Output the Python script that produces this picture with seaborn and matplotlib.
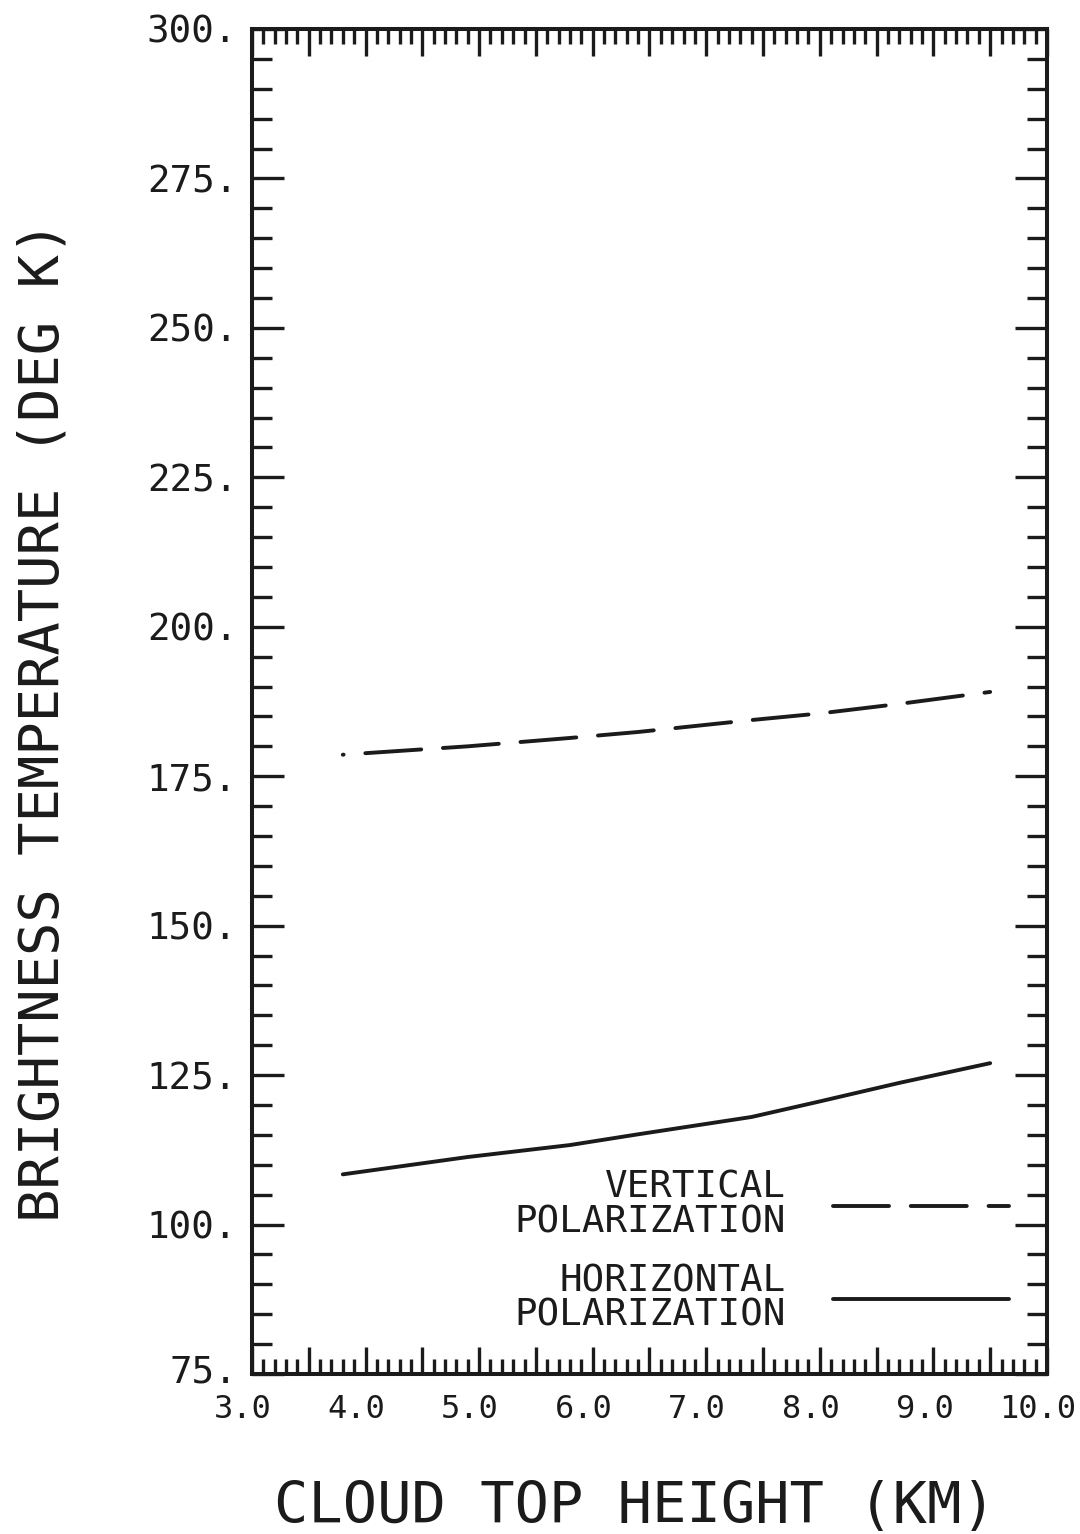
import matplotlib
matplotlib.use("Agg")
import matplotlib.pyplot as plt
import matplotlib.transforms as mtransforms
from matplotlib.lines import Line2D
from matplotlib.ticker import MultipleLocator, FuncFormatter
import pandas as pd
import seaborn as sns

# Brightness temperature vs. cloud top height
height_km = [3.8, 4.9, 5.8, 6.4, 7.4, 8.0, 8.7, 9.5]
vertical_tb = [178.6, 180.0, 181.4, 182.4, 184.4, 185.5, 187.1, 189.1]
horizontal_tb = [108.4, 111.3, 113.3, 115.1, 118.0, 120.6, 123.7, 127.0]

series_labels = ["VERTICAL\nPOLARIZATION", "HORIZONTAL\nPOLARIZATION"]
x_label = "CLOUD TOP HEIGHT (KM)"
y_label = "BRIGHTNESS TEMPERATURE (DEG K)"

INK = "#1b1b1b"
LW = 2.8

sns.set_theme(style="ticks")
plt.rcParams["font.family"] = ["DejaVu Sans Mono", "DejaVu Sans"]
plt.rcParams["text.color"] = INK
plt.rcParams["axes.labelcolor"] = INK
plt.rcParams["xtick.color"] = INK
plt.rcParams["ytick.color"] = INK

df = pd.DataFrame({
    "height": height_km * 2,
    "tb": vertical_tb + horizontal_tb,
    "pol": [series_labels[0]] * len(height_km) + [series_labels[1]] * len(height_km),
})

fig = plt.figure(figsize=(10.8, 15.34), dpi=100)
fig.patch.set_facecolor("white")
ax = fig.add_axes([0.2333, 0.1043, 0.7361, 0.8768])
ax.set_facecolor("white")

sns.lineplot(data=df[df["pol"] == series_labels[0]], x="height", y="tb",
             color=INK, lw=LW, ax=ax, legend=False)
sns.lineplot(data=df[df["pol"] == series_labels[1]], x="height", y="tb",
             color=INK, lw=LW, ax=ax, legend=False)

dash_on, dash_off = 14.4, 5.6
vline, hline = ax.lines[0], ax.lines[1]
vline.set_linestyle((14.2, (dash_on, dash_off)))
for ln in (vline, hline):
    ln.set_dash_capstyle("round")
    ln.set_solid_capstyle("round")

ax.set_xlim(3.0, 10.0)
ax.set_ylim(75, 300)

# frame and ticks
for sp in ax.spines.values():
    sp.set_visible(True)
    sp.set_linewidth(2.9)
    sp.set_color(INK)

ax.xaxis.set_major_locator(MultipleLocator(0.5))
ax.xaxis.set_minor_locator(MultipleLocator(0.1))
ax.yaxis.set_major_locator(MultipleLocator(25))
ax.yaxis.set_minor_locator(MultipleLocator(5))
ax.xaxis.set_major_formatter(FuncFormatter(
    lambda v, p: f"{v:.1f}" if abs(v - round(v)) < 1e-6 else ""))
ax.yaxis.set_major_formatter(FuncFormatter(lambda v, p: f"{int(round(v))}."))

ax.tick_params(which="both", direction="in", top=True, right=True,
               width=2.4, color=INK)
ax.tick_params(axis="x", which="major", length=19.5, pad=14.5, labelsize=23)
ax.tick_params(axis="x", which="minor", length=11)
ax.tick_params(axis="y", which="major", length=23, pad=10.5, labelsize=27)
ax.tick_params(axis="y", which="minor", length=14.5)

fig.canvas.draw()
shift_x = mtransforms.ScaledTranslation(-9 / 100, 0, fig.dpi_scale_trans)
for lab in ax.get_xticklabels():
    lab.set_transform(lab.get_transform() + shift_x)
# lift the bottom y label a little so it clears the first x label
shift_y = mtransforms.ScaledTranslation(0, 6 / 100, fig.dpi_scale_trans)
for lab in ax.get_yticklabels():
    if lab.get_text() == "75.":
        lab.set_transform(lab.get_transform() + shift_y)

ax.set_xlabel(x_label, fontsize=41)
ax.xaxis.set_label_coords(0.482, -0.099)
ax.xaxis.label.set_va("center")
ax.set_ylabel(y_label, fontsize=40)
ax.yaxis.set_label_coords(-0.262, 0.4855)
ax.yaxis.label.set_va("center")

handles = [
    Line2D([], [], color=INK, lw=LW, linestyle=(0, (dash_on, dash_off)),
           dash_capstyle="round"),
    Line2D([], [], color=INK, lw=LW, solid_capstyle="round"),
]
leg = ax.legend(handles, series_labels, loc="lower right",
                bbox_to_anchor=(0.952, 0.030), frameon=False, markerfirst=False,
                prop={"family": "DejaVu Sans Mono", "size": 27},
                handlelength=4.7, handletextpad=1.25, labelspacing=0.6,
                borderpad=0, borderaxespad=0)
for t in leg.get_texts():
    t.set_multialignment("right")
    t.set_linespacing(0.95)
    t.set_color(INK)

fig.savefig("out.png", dpi=100, facecolor="white")
